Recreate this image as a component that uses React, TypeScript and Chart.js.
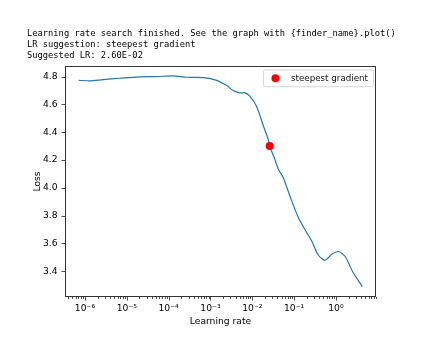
import React, { useEffect, useRef } from "react";
import { Chart, registerables } from "chart.js";

Chart.register(...registerables);

// ---- data ----
const learningRates = [
  7.08e-7, 1.32e-6, 2.69e-6, 6.76e-6, 2.04e-5, 5.13e-5, 1.29e-4, 2.69e-4,
  6.76e-4, 1.41e-3, 2.45e-3, 3.47e-3, 5.01e-3, 6.76e-3, 8.71e-3, 1.26e-2,
  1.82e-2, 2.4e-2, 2.6e-2, 3.47e-2, 4.17e-2, 5.5e-2, 7.94e-2, 1.26e-1,
  2.0e-1, 2.63e-1, 3.8e-1, 5.5e-1, 7.94e-1, 1.15, 1.66, 2.57, 4.27,
];
const losses = [
  4.773, 4.769, 4.778, 4.788, 4.798, 4.8, 4.805, 4.795,
  4.793, 4.773, 4.735, 4.7, 4.683, 4.683, 4.659, 4.587,
  4.45, 4.348, 4.3, 4.204, 4.135, 4.073, 3.941, 3.786,
  3.678, 3.618, 3.515, 3.479, 3.522, 3.542, 3.506, 3.391, 3.29,
];
const suggestedLr = [2.6e-2];
const suggestedLoss = [4.3];
const seriesLabel = "steepest gradient";

const xMajorTicks = [1e-6, 1e-5, 1e-4, 1e-3, 1e-2, 1e-1, 1e0];
const xMajorLabels = ["10⁻⁶", "10⁻⁵", "10⁻⁴", "10⁻³", "10⁻²", "10⁻¹", "10⁰"];
const yTicks = [3.4, 3.6, 3.8, 4.0, 4.2, 4.4, 4.6, 4.8];

const headerLines = [
  "Learning rate search finished. See the graph with {finder_name}.plot()",
  "LR suggestion: steepest gradient",
  "Suggested LR: 2.60E-02",
];

const X_MIN = 3.33e-7;
const X_MAX = 9.06;
const Y_MIN = 3.215;
const Y_MAX = 4.876;

const FONT = "DejaVu Sans";
const FS = 9.2;

function buildXTicks(): number[] {
  const out: number[] = [];
  for (let e = -7; e <= 1; e++) {
    for (let m = 1; m <= 9; m++) {
      const v = m * Math.pow(10, e);
      if (v >= X_MIN && v <= X_MAX) out.push(v);
    }
  }
  return out;
}

function isMajor(v: number): number {
  for (let i = 0; i < xMajorTicks.length; i++) {
    if (Math.abs(v - xMajorTicks[i]) / xMajorTicks[i] < 1e-6) return i;
  }
  return -1;
}

const framePlugin = {
  id: "frameAndTicks",
  afterDraw(chart: any) {
    const { ctx, chartArea } = chart;
    const xs = chart.scales.x;
    const ys = chart.scales.y;
    ctx.save();
    ctx.strokeStyle = "#222";
    ctx.lineWidth = 0.8;
    for (const t of xs.ticks) {
      const px = Math.round(xs.getPixelForValue(t.value)) + 0.5;
      const len = isMajor(t.value) >= 0 ? 3.5 : 2;
      ctx.beginPath();
      ctx.moveTo(px, chartArea.bottom);
      ctx.lineTo(px, chartArea.bottom + len);
      ctx.stroke();
    }
    for (const t of ys.ticks) {
      const py = Math.round(ys.getPixelForValue(t.value)) + 0.5;
      ctx.beginPath();
      ctx.moveTo(chartArea.left, py);
      ctx.lineTo(chartArea.left - 3.5, py);
      ctx.stroke();
    }
    ctx.lineWidth = 1;
    ctx.strokeStyle = "#333";
    ctx.strokeRect(
      Math.round(chartArea.left) + 0.5,
      Math.round(chartArea.top) + 0.5,
      Math.round(chartArea.right - chartArea.left) - 1,
      Math.round(chartArea.bottom - chartArea.top) - 1
    );
    // legend
    ctx.font = `${FS}px "${FONT}"`;
    let tw = ctx.measureText(seriesLabel).width;
    let fs = FS;
    if (tw > 77) {
      fs = (FS * 77) / tw;
      ctx.font = `${fs}px "${FONT}"`;
      tw = ctx.measureText(seriesLabel).width;
    }
    const w = 27.5 + tw + 5.5;
    const h = 16.7;
    const right = chartArea.right - 2.5;
    const left = right - w;
    const top = chartArea.top + 4;
    const r = 2;
    ctx.beginPath();
    ctx.moveTo(left + r, top);
    ctx.lineTo(left + w - r, top);
    ctx.arcTo(left + w, top, left + w, top + r, r);
    ctx.lineTo(left + w, top + h - r);
    ctx.arcTo(left + w, top + h, left + w - r, top + h, r);
    ctx.lineTo(left + r, top + h);
    ctx.arcTo(left, top + h, left, top + h - r, r);
    ctx.lineTo(left, top + r);
    ctx.arcTo(left, top, left + r, top, r);
    ctx.closePath();
    ctx.fillStyle = "rgba(255,255,255,0.8)";
    ctx.fill();
    ctx.strokeStyle = "#d6d6d6";
    ctx.lineWidth = 1;
    ctx.stroke();
    ctx.beginPath();
    ctx.arc(left + 12, top + h / 2, 4, 0, Math.PI * 2);
    ctx.fillStyle = "red";
    ctx.fill();
    ctx.fillStyle = "#111";
    ctx.textBaseline = "middle";
    ctx.textAlign = "left";
    ctx.fillText(seriesLabel, left + 27.5, top + h / 2 + 0.5);
    ctx.restore();
  },
};

export default function App() {
  const canvasRef = useRef<HTMLCanvasElement | null>(null);

  useEffect(() => {
    if (!canvasRef.current) return;
    const lineData = learningRates.map((x, i) => ({ x, y: losses[i] }));
    const pointData = suggestedLr.map((x, i) => ({ x, y: suggestedLoss[i] }));
    const chart = new Chart(canvasRef.current, {
      type: "scatter",
      data: {
        datasets: [
          {
            label: seriesLabel,
            data: pointData,
            pointRadius: 4,
            pointHoverRadius: 4,
            backgroundColor: "red",
            borderWidth: 0,
            order: 0,
          } as any,
          {
            label: "loss",
            data: lineData,
            showLine: true,
            borderColor: "#1f77b4",
            borderWidth: 1.2,
            pointRadius: 0,
            tension: 0.25,
            order: 1,
          } as any,
        ],
      },
      plugins: [framePlugin],
      options: {
        responsive: false,
        animation: false,
        devicePixelRatio: 1,
        layout: { padding: { left: 0, right: 48, top: 66, bottom: 0 } },
        plugins: {
          legend: { display: false },
          title: { display: false },
          tooltip: { enabled: false },
        },
        scales: {
          x: {
            type: "logarithmic",
            min: X_MIN,
            max: X_MAX,
            afterBuildTicks: (scale: any) => {
              scale.ticks = buildXTicks().map((v) => ({ value: v }));
            },
            afterFit: (scale: any) => {
              scale.height = 43;
            },
            grid: {
              display: true,
              drawOnChartArea: false,
              drawTicks: true,
              tickLength: 3.5,
              color: "rgba(0,0,0,0)",
            },
            border: { display: false },
            ticks: {
              autoSkip: false,
              maxRotation: 0,
              padding: 3,
              color: "#000",
              font: { family: FONT, size: FS },
              callback: (value: any) => {
                const i = isMajor(Number(value));
                return i >= 0 ? xMajorLabels[i] : "";
              },
            },
            title: {
              display: true,
              text: "Learning rate",
              color: "#000",
              font: { family: FONT, size: FS },
              padding: { top: 0, bottom: 12.5 },
            },
          },
          y: {
            type: "linear",
            min: Y_MIN,
            max: Y_MAX,
            afterBuildTicks: (scale: any) => {
              scale.ticks = yTicks.map((v) => ({ value: v }));
            },
            afterFit: (scale: any) => {
              scale.width = 65;
            },
            grid: {
              display: true,
              drawOnChartArea: false,
              drawTicks: true,
              tickLength: 3.5,
              color: "rgba(0,0,0,0)",
            },
            border: { display: false },
            ticks: {
              padding: 4,
              color: "#000",
              font: { family: FONT, size: FS },
              callback: (value: any) => Number(value).toFixed(1),
            },
            title: {
              display: true,
              text: "Loss",
              color: "#000",
              font: { family: FONT, size: FS },
              padding: { top: 32.5, bottom: 0 },
            },
          },
        },
      },
    } as any);
    return () => chart.destroy();
  }, []);

  return (
    <div style={{ position: "absolute", left: 0, top: 0, width: 424, height: 340, background: "#fff" }}>
      <canvas ref={canvasRef} width={424} height={340} style={{ position: "absolute", left: 0, top: 0 }} />
      <pre
        style={{
          position: "absolute",
          left: 27,
          top: 28,
          margin: 0,
          fontFamily: '"DejaVu Sans Mono", monospace',
          fontSize: 8.75,
          lineHeight: "11px",
          color: "#000",
        }}
      >
        {headerLines.join("\n")}
      </pre>
    </div>
  );
}
